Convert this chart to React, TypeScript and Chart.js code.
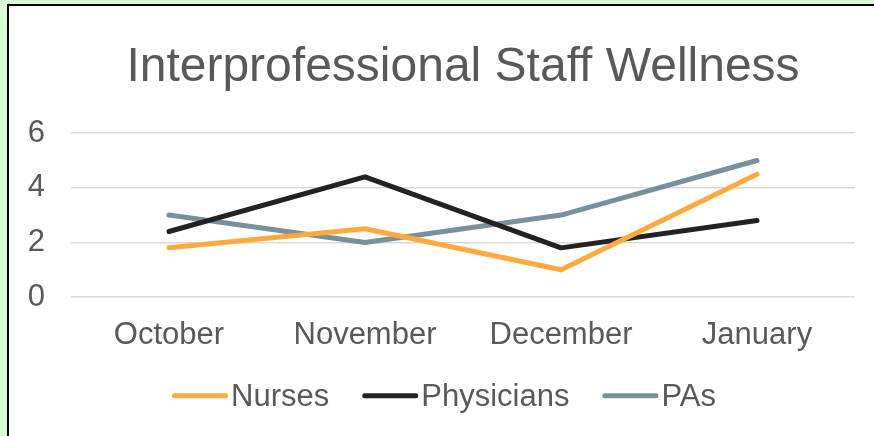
import React, { useEffect, useRef } from "react";
import { Chart, registerables } from "chart.js";

Chart.register(...registerables);

const categories = ["October", "November", "December", "January"];
const nurses = [1.8, 2.5, 1.0, 4.5];
const physicians = [2.4, 4.4, 1.8, 2.8];
const pas = [3.0, 2.0, 3.0, 5.0];
const yTicks = [0, 2, 4, 6];
const seriesNames = ["Nurses", "Physicians", "PAs"];
const seriesColors = ["#ffa93f", "#222222", "#78909c"];
const titleText = "Interprofessional Staff Wellness";

const FONT = "'Liberation Sans', Arial, Helvetica, sans-serif";
const TEXT = "#595959";

const legendPlugin = {
  id: "customLegend",
  afterDraw(chart: any) {
    const ctx = chart.ctx as CanvasRenderingContext2D;
    const area = chart.chartArea;
    ctx.save();
    ctx.font = `31px ${FONT}`;
    const lineLen = 56;
    const gapText = 3;
    const gapItem = 33;
    const items = chart.data.datasets.map((ds: any) => ({
      label: ds.label as string,
      color: ds.borderColor as string,
      w: ctx.measureText(ds.label).width,
    }));
    const total =
      items.reduce((s: number, it: any) => s + lineLen + gapText + it.w, 0) +
      gapItem * (items.length - 1);
    let x = (area.left + area.right) / 2 - 19 - total / 2;
    const lineY = area.bottom + 98.7;
    const baseY = area.bottom + 109;
    ctx.textBaseline = "alphabetic";
    ctx.textAlign = "left";
    for (const it of items) {
      ctx.beginPath();
      ctx.strokeStyle = it.color;
      ctx.lineWidth = 5;
      ctx.lineCap = "round";
      ctx.moveTo(x + 2.5, lineY);
      ctx.lineTo(x + lineLen - 2.5, lineY);
      ctx.stroke();
      x += lineLen + gapText;
      ctx.fillStyle = TEXT;
      ctx.fillText(it.label, x, baseY);
      x += it.w + gapItem;
    }
    ctx.restore();
  },
};

export default function App() {
  const canvasRef = useRef<HTMLCanvasElement | null>(null);

  useEffect(() => {
    const html = document.documentElement;
    const body = document.body;
    html.style.background = "#d8fbd8";
    html.style.overflow = "hidden";
    body.style.margin = "0";
    body.style.background = "#d8fbd8";
    body.style.overflow = "hidden";

    const canvas = canvasRef.current;
    if (!canvas) return;
    const seriesData = [nurses, physicians, pas];
    const chart = new Chart(canvas, {
      type: "line",
      data: {
        labels: categories,
        datasets: seriesNames.map((name, i) => ({
          label: name,
          data: seriesData[i],
          borderColor: seriesColors[i],
          backgroundColor: seriesColors[i],
          borderWidth: 5,
          borderCapStyle: "round",
          borderJoinStyle: "round",
          pointRadius: 0,
          pointHoverRadius: 0,
          tension: 0,
          fill: false,
          yAxisID: "y",
        })),
      },
      options: {
        responsive: false,
        animation: false,
        devicePixelRatio: 1,
        layout: { padding: { left: 0, right: 0, top: 0, bottom: 79 } },
        plugins: {
          legend: { display: false },
          tooltip: { enabled: false },
          title: {
            display: true,
            text: titleText,
            color: TEXT,
            font: { family: FONT, size: 48, weight: "normal" },
            padding: { top: 32.6, bottom: 37 },
          },
        },
        scales: {
          x: {
            type: "category",
            offset: true,
            grid: { display: false, drawTicks: false },
            border: { display: false },
            ticks: {
              color: TEXT,
              font: { family: FONT, size: 31 },
              padding: 20,
              maxRotation: 0,
              autoSkip: false,
            },
            afterFit(s: any) {
              s.height = 60;
            },
          },
          y: {
            type: "linear",
            position: "left",
            min: 0,
            max: 6,
            afterBuildTicks(s: any) {
              s.ticks = yTicks.map((v) => ({ value: v }));
            },
            ticks: {
              color: TEXT,
              font: { family: FONT, size: 31 },
              padding: 26,
            },
            grid: { color: "#d9d9d9", lineWidth: 1.5, drawTicks: false },
            border: { display: false },
            afterFit(s: any) {
              s.width = 62;
            },
          },
          y2: {
            type: "linear",
            position: "right",
            display: true,
            min: 0,
            max: 6,
            ticks: { display: false },
            grid: { display: false, drawTicks: false },
            border: { display: false },
            afterFit(s: any) {
              s.width = 62;
            },
          },
        },
      },
      plugins: [legendPlugin],
    } as any);
    return () => chart.destroy();
  }, []);

  return (
    <div
      style={{
        position: "absolute",
        left: 7,
        top: 4,
        width: 908,
        height: 440,
        border: "2px solid #000",
        background: "#ffffff",
        overflow: "hidden",
      }}
    >
      <canvas
        ref={canvasRef}
        width={908}
        height={430}
        style={{ display: "block", width: 908, height: 430 }}
      />
    </div>
  );
}
